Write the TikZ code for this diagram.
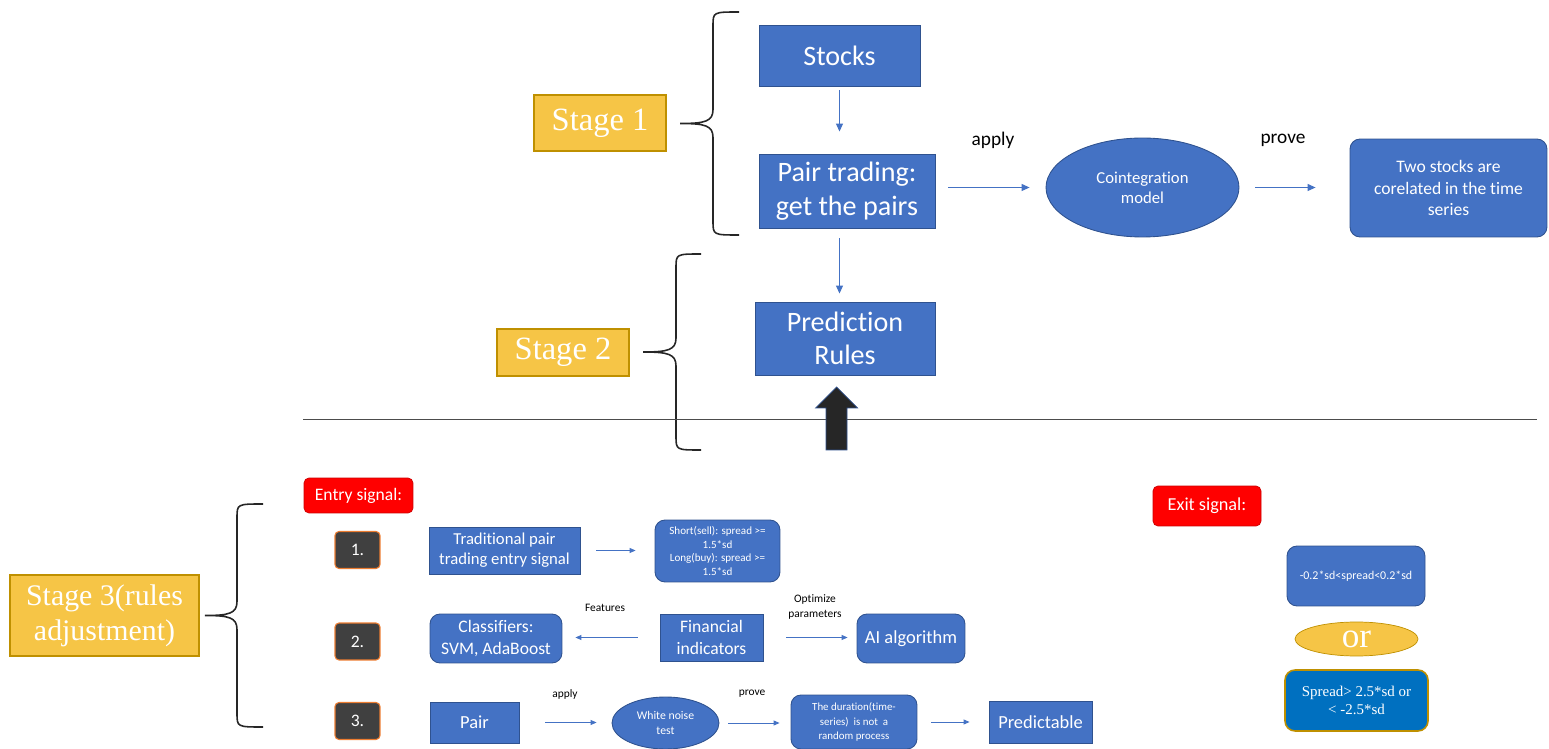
\documentclass[tikz,border=0pt]{standalone}
\usepackage{fontspec}
\setmainfont{Carlito}[Ligatures=NoCommon]
\newfontfamily\stageserif{Liberation Serif}
\usetikzlibrary{arrows.meta,positioning,shapes.geometric}
\definecolor{boxblue}{RGB}{68,114,196}
\definecolor{boxedge}{RGB}{47,82,143}
\definecolor{stagegold}{RGB}{246,197,70}
\definecolor{goldedge}{RGB}{191,144,0}
\definecolor{signalred}{RGB}{255,0,0}
\definecolor{numgrey}{RGB}{64,64,64}
\definecolor{numedge}{RGB}{237,125,49}
\definecolor{spreadblue}{RGB}{0,112,192}

% curly brace: ends x, spine x, tip x, top y, bottom y
\newcommand{\stagebrace}[5]{%
  \draw[brace] (#1,#4) .. controls (#2,#4) .. (#2,#4+14)
    -- (#2,{(#4+#5)/2-14}) .. controls (#2,{(#4+#5)/2-2}) and ({#2-8},{(#4+#5)/2}) .. (#3,{(#4+#5)/2})
    .. controls ({#2-8},{(#4+#5)/2}) and (#2,{(#4+#5)/2+2}) .. (#2,{(#4+#5)/2+14})
    -- (#2,#5-14) .. controls (#2,#5) .. (#1,#5);}

\begin{document}
\begin{tikzpicture}[
  x=0.02cm, y=-0.02cm,
  blk/.style={draw=boxedge, fill=boxblue, text=white, line width=0.5pt, inner sep=1pt, align=center},
  rnd/.style={blk, rounded corners=0.2cm},
  oval/.style={blk, ellipse, inner sep=0pt},
  stage/.style={draw=goldedge, fill=stagegold, text=white, line width=0.6pt, align=center,
    font=\stageserif\fontsize{18.5}{21}\selectfont},
  signal/.style={draw=red!80!black, fill=signalred, text=white, rounded corners=0.1cm,
    font=\fontsize{10}{12}\selectfont},
  num/.style={draw=numedge, fill=numgrey, text=white, rounded corners=0.08cm, line width=0.6pt,
    minimum width=0.9cm, minimum height=0.74cm, font=\fontsize{10}{12}\selectfont},
  lbl/.style={font=\fontsize{11}{13}\selectfont},
  smalllbl/.style={font=\fontsize{6.5}{8}\selectfont, align=center},
  flow/.style={draw=boxblue, line width=0.6pt, -{Triangle[length=0.16cm,width=0.14cm]}},
  flowsm/.style={draw=boxblue, line width=0.5pt, -{Triangle[length=0.12cm,width=0.1cm]}},
  brace/.style={draw=black!85, line width=0.9pt}
]
\useasboundingbox (0,0) rectangle (1549,749);

% stage 1 and 2
\node[blk, minimum width=3.22cm, minimum height=1.22cm, font=\fontsize{16}{19}\selectfont] (stocks) at (839.5,55.5) {Stocks};
\node[blk, minimum width=3.52cm, minimum height=1.48cm, font=\fontsize{16}{19}\selectfont] (pairs) at (847,191) {Pair trading:\\get the pairs};
\node[blk, minimum width=3.6cm, minimum height=1.46cm, font=\fontsize{16}{19}\selectfont] (rules) at (845,338.5) {Prediction\\Rules};
\node[oval, minimum width=3.86cm, minimum height=1.98cm, font=\fontsize{9.5}{11.5}\selectfont] (coint) at (1142.5,187.5) {Cointegration\\model};
\node[rnd, minimum width=3.94cm, minimum height=1.96cm, font=\fontsize{10}{12}\selectfont] (corr) at (1448.5,188) {Two stocks are\\corelated in the time\\series};

\node[stage, minimum width=2.64cm, minimum height=1.12cm] (stageA) at (600,123) {Stage 1};
\node[stage, minimum width=2.64cm, minimum height=0.94cm] (stageB) at (563,352.5) {Stage 2};

\node[lbl] (applyA) at (993,140) {apply};
\node[lbl] (proveA) at (1283,140) {prove};

\draw[flow, shorten <=0.08cm, shorten >=0.44cm] (stocks.south) -- (stocks.south |- pairs.north);
\draw[flow, shorten <=0.2cm, shorten >=0.16cm] (stocks.south |- pairs.south) -- (stocks.south |- rules.north);
\draw[flow, shorten <=0.26cm, shorten >=0.32cm] (pairs.east |- coint.west) -- (coint.west);
\draw[flow, shorten <=0.32cm, shorten >=0.68cm] (coint.east) -- (coint.east -| corr.west);

\stagebrace{739}{713}{680}{12}{235}
\stagebrace{701}{676}{643}{254}{450}

\draw[black!70, line width=0.5pt] (303,419) -- (1537,419);
% thick arrow up to the rules
\coordinate (bigtip) at (836.5,387);
\fill[black!85, draw=boxedge, line width=0.4pt] (bigtip) -- ++(21,21) -- ++(-10.5,0) -- ++(0,42)
  -- ++(-21,0) -- ++(0,-42) -- ++(-10.5,0) -- cycle;

% stage 3
\node[stage, minimum width=3.78cm, minimum height=1.62cm, font=\stageserif\fontsize{17}{20}\selectfont] (stageC) at (104.5,615.5) {Stage 3(rules\\adjustment)};
\stagebrace{263}{237}{205}{504}{727}

\node[signal, minimum width=2.18cm, minimum height=0.7cm] (entry) at (358.5,495.5) {Entry signal:};
\node[num] (numA) at (357.5,550) {1.};
\node[num] (numB) at (357.5,641.5) {2.};
\node[num] (numC) at (357.5,721) {3.};

\node[blk, minimum width=3.02cm, minimum height=0.94cm, font=\fontsize{9.5}{11.5}\selectfont] (trad) at (504.5,550.5) {Traditional pair\\trading entry signal};
\node[rnd, minimum width=2.5cm, minimum height=1.24cm, font=\fontsize{6.3}{7.6}\selectfont] (shortlong) at (717.5,551) {Short(sell): spread >=\\1.5*sd\\Long(buy): spread >=\\1.5*sd};
\draw[flowsm, shorten <=0.32cm, shorten >=0.38cm] (trad.east) -- (trad.east -| shortlong.west);

\node[rnd, minimum width=2.64cm, minimum height=0.98cm, font=\fontsize{10}{12}\selectfont] (classif) at (496,638.5) {Classifiers:\\SVM, AdaBoost};
\node[blk, minimum width=2.06cm, minimum height=0.94cm, font=\fontsize{10}{12}\selectfont] (fin) at (711.5,637.5) {Financial\\indicators};
\node[rnd, minimum width=2.16cm, minimum height=0.98cm, font=\fontsize{10.5}{12.5}\selectfont] (ai) at (911,638.5) {AI algorithm};
\node[smalllbl] (features) at (605,608) {Features};
\node[smalllbl] (optim) at (815,607) {Optimize\\parameters};
\draw[flowsm, shorten <=0.44cm, shorten >=0.26cm] (fin.west) -- (fin.west -| classif.east);
\draw[flowsm, shorten <=0.46cm, shorten >=0.18cm] (fin.east) -- (fin.east -| ai.west);

\node[blk, minimum width=1.78cm, minimum height=0.82cm, font=\fontsize{10.5}{12.5}\selectfont] (pair) at (474.5,722.5) {Pair};
\node[oval, minimum width=2.14cm, minimum height=1.04cm, font=\fontsize{6.7}{8.2}\selectfont] (noise) at (665.5,723) {White noise\\test};
\node[rnd, minimum width=2.52cm, minimum height=1.08cm, font=\fontsize{6.2}{8.2}\selectfont] (duration) at (854,722) {The duration(time-\\series)~ is not~ a\\random process};
\node[blk, minimum width=2.06cm, minimum height=0.84cm, font=\fontsize{10.5}{12.5}\selectfont] (predict) at (1040.5,722) {Predictable};
\node[smalllbl] (applyB) at (565,694) {apply};
\node[smalllbl] (proveB) at (752,694) {prove};
\draw[flowsm, shorten <=0.52cm, shorten >=0.3cm] (pair.east) -- (pair.east -| noise.west);
\draw[flowsm, shorten <=0.18cm, shorten >=0.22cm] (noise.east) -- (noise.east -| duration.west);
\draw[flowsm, shorten <=0.28cm, shorten >=0.38cm] (duration.east) -- (duration.east -| predict.west);

% exit signal
\node[signal, minimum width=2.16cm, minimum height=0.8cm, font=\fontsize{10.4}{12.5}\selectfont] (exit) at (1207,506) {Exit signal:};
\node[rnd, minimum width=2.76cm, minimum height=1.2cm, font=\fontsize{6.8}{8}\selectfont] (band) at (1356,576) {-0.2*sd<spread<0.2*sd};
\node[ellipse, draw=goldedge, fill=stagegold, text=white, inner sep=0pt, minimum width=2.46cm, minimum height=0.68cm,
  font=\stageserif\fontsize{20}{22}\selectfont] (orsign) at (1356.5,639) {or};
\node[draw=goldedge, fill=spreadblue, text=white, line width=0.9pt, rounded corners=0.2cm, align=center,
  minimum width=2.86cm, minimum height=1.22cm, font=\stageserif\fontsize{8.5}{10.5}\selectfont] (spread) at (1356.5,700.5) {Spread> 2.5*sd or\\< -2.5*sd};
\end{tikzpicture}
\end{document}
